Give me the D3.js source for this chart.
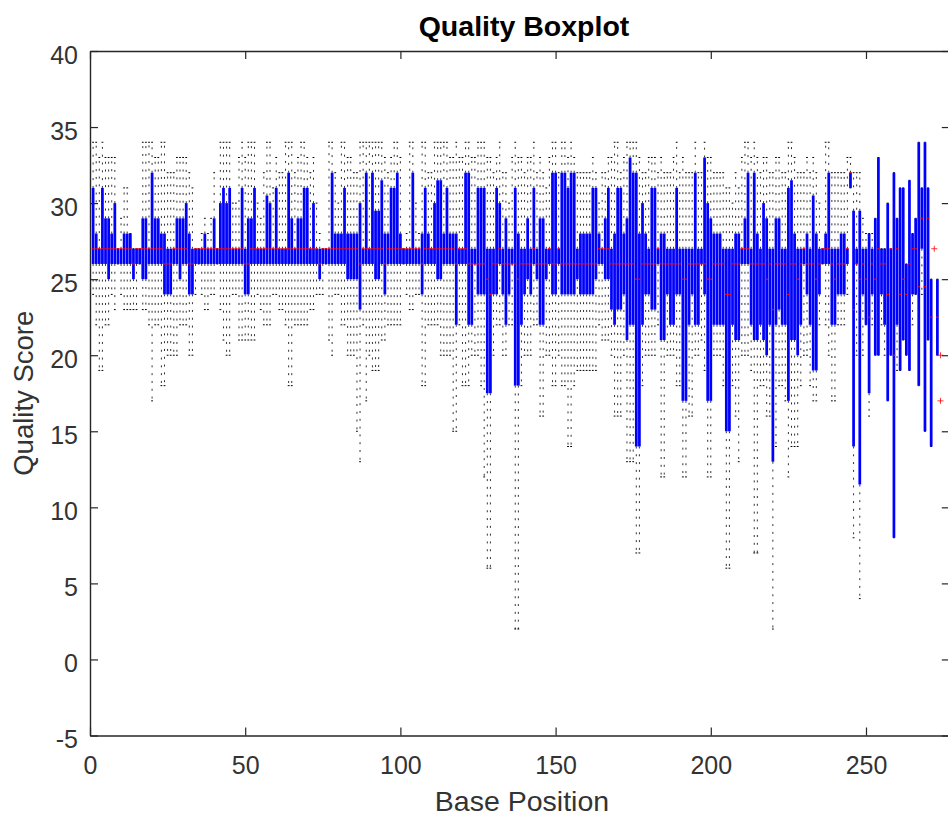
<!DOCTYPE html>
<html><head><meta charset="utf-8">
<script src="https://cdn.jsdelivr.net/npm/d3@7"></script>
<style>
body{margin:0;background:#fff}
svg{display:block}
text{font-family:"Liberation Sans",Arial,Helvetica,sans-serif}
</style>
</head><body>
<svg id="chart" width="948" height="820"></svg>
<script>
// ---- data, positions 1..274 ----
const whiskerLow = [
24,22,19,19,22,22,24,23,26,24, 23,23,23,23,23,26,23,23,22,17,
22,22,18,18,20,20,20,20,22,22, 22,20,20,24,26,24,23,23,24,24,
26,23,21,20,20,24,24,21,21,21, 21,21,21,24,23,22,22,22,24,24,
23,23,22,18,18,22,22,22,22,22, 23,23,24,24,24,26,21,20,24,24,
22,22,20,20,20,15,13,22,17,20, 19,19,19,21,21,22,22,22,22,22,
26,24,23,23,24,24,18,18,22,22, 22,22,20,20,20,20,15,15,22,18,
18,18,20,20,20,18,12,6,6,20, 22,22,20,20,22,22,2,2,18,20,
20,20,22,22,16,16,20,20,18,18, 20,18,18,14,14,18,19,19,19,19,
19,19,19,22,21,21,21,20,16,16, 16,20,13,13,13,7,7,18,20,20,
20,20,22,12,12,20,20,20,18,18, 12,12,16,16,20,20,21,19,12,12,
20,20,20,18,6,6,18,16,13,20, 20,20,19,7,7,18,18,16,16,2,
14,18,18,17,12,14,14,14,18,20, 20,18,17,17,22,26,22,20,17,17,
22,22,22,24,31,8,20,4,20,22, 16,22,20,20,22,20,17,20,8,19,
19,21,20,19,22,24,18,24,15,21, 14,null,20,null];
const lowerQuartile = [
26,26,26,26,26,25,26,26,26,26, 26,26,26,25,26,26,25,25,26,26,
26,26,26,24,24,24,26,26,25,26, 26,24,24,26,26,26,26,26,26,26,
26,26,26,26,26,26,26,26,26,24, 24,26,26,26,26,26,26,26,26,26,
26,26,26,26,26,26,26,26,26,26, 26,26,26,25,26,26,26,26,26,26,
26,26,25,25,25,25,23,26,26,26, 26,25,25,26,24,26,26,26,26,26,
26,26,26,26,26,26,24,26,26,26, 26,25,25,26,26,26,26,22,26,26,
26,22,22,26,24,24,24,17.5,17.5,24, 24,26,24,22,24,26,18,18,22,24,
25,24,26,25,22,22,25,26,24,24, 26,24,24,24,24,24,25,24,24,24,
24,24,25,26,26,25,25,23,22,23, 23,24,21,22,22,14,14,22,24,24,
23,23,26,21,21,24,22,22,24,24, 17,17,22,24,22,22,26,24,17,17,
22,22,22,22,15,15,22,21,21,26, 26,26,22,21,21,22,21,20,22,13,
22,23,22,22,17,21,21,20,22,26, 24,22,19,19,24,26,26,26,22,22,
24,24,24,26,31,14,26,11.5,24,22, 17.5,24,20,20,24,22,17,20,8,22,
19,21,20,19,24,24,18,27,15,21, 14,null,20,null];
const medianValue = [
27,27,27,27,27,27,27,27,27,27, 27,27,27,26,27,27,27,27,27,27,
27,27,27,26,26,26,27,27,27,27, 27,26,26,27,27,27,27,27,27,27,
27,27,27,27,27,27,27,27,27,26, 26,27,27,27,27,27,27,27,27,27,
27,27,27,27,27,27,27,27,27,27, 27,27,27,26,27,27,27,27,27,27,
27,27,27,27,27,27,26,27,27,27, 27,27,27,27,26,27,27,27,27,27,
27,27,27,27,27,27,26,27,27,27, 27,27,27,27,27,27,27,26,27,27,
27,26,26,26,26,26,26,25,24,26, 26,27,26,26,26,26,26,25,26,26,
26,26,27,26,26,26,26,27,26,26, 27,26,26,26,26,26,26,26,26,26,
26,26,26,27,27,27,27,26,26,26, 26,26,26,26,26,25,25,26,26,26,
26,26,27,26,26,26,26,26,26,26, 25,25,26,26,26,26,26,26,25,25,
26,26,26,26,24,24,26,26,26,27, 27,27,26,26,26,26,26,25,26,23,
26,26,26,26,24,26,26,25,26,27, 26,26,26,25,26,27,27,27,26,25,
26,26,26,27,32,23,26,25,26,25, 22.5,26,25,27,26,26,24,27,20,27,
24,25,24,26,27,27,24.5,29,24.5,29, 22.5,null,22.5,null];
const upperQuartile = [
31,28,27,31,29,29,28,30,27,27, 28,28,28,27,27,27,29,29,27,32,
29,29,28,28,27,27,27,29,29,29, 30,28,27,27,27,27,28,27,27,29,
27,30,31,30,31,27,27,27,31,27, 29,29,31,27,27,27,30.5,30,27,31,
27,27,27,32,29,27,29,29,31,31, 27,30,27,27,27,27,27,32,28,28,
28,31,28,28,28,28,30,27,32,27, 32,29.5,29.5,31.5,28,28,31,31,32,28,
27,27,27,32,27,27,28,31,28,27, 30,31.5,31.5,28,31,28,28,28,27,27,
32,32,27,27,31,31,31,27,27,27, 31,30,27,29,27,27,31,28,27,27,
29,27,31,27,29,29,27,27,32,32, 27,32,32,31,32,32,27,28,28,28,
28,31,31,28,27,29,31,27,28,31, 31,28,29,33,32,32,28,30,28,27,
31,31,27,28,28,27,27,27,31,27, 27,27,27,27,32,27,27,33,30,29,
28,28,28,27,27,27,27,28,28,27, 29,32,27,32,28,27,30,29,27,27,
29,29,27,27,31,31.5,28,27,27,27, 28,27,30.5,28,27,27,28,32,27,27,
27,28,28,27,32,29.5,27,29.5,27,27, 28,27,29,33,27,27,30,27,32,29,
31,31,26,31.5,28,29,34,31,34,31, 25,null,25,null];
const whiskerHigh = [
34,34,33,34,33,33,33,33,27,29, 31,31,28,27,27,27,34,34,34,34,
33,33,34,34,32,32,32,33,33,33, 33,32,31,27,27,28,29,28,29,32,
27,34,34,34,34,30,30,33,34,33, 34,34,34,30,29,32,34,34,31,33,
32,32,34,34,34,32,33,34,34,33, 32,33,30,28,27,27,34,34,32,30,
34,34,33,33,32,32,34,34,34,34, 34,34,34,34,33,32,33,34,34,33,
27,28,34,34,30,28,34,34,32,32, 34,34,34,34,34,33,33,34,33,33,
34,34,33,33,34,34,34,33,33,32, 33,34,32,32,30,33,34,33,33,32,
33,33,34,32,33,32,31,33,34,34, 32,34,34,33,34,33,32,32,32,32,
32,33,32,30,32,32,33,33,34,34, 32,33,34,34,34,34,33,32,32,33,
33,33,32,33,32,32,32,33,34,32, 33,32,32,32,34,32,32,34,33,33,
32,32,32,32,31,31,30,32,31,33, 34,34,33,34,33,32,33,33,32,32,
33,33,32,32,34,34,33,32,32,32, 33,32,33,32,30,27,34,34,32,32,
32,32,32,33,33,32,32,32,29,28, 28,28,29,33,27,27,30,27,32,29,
31,31,26,31.5,28,29,34,31,34,31, 25,null,25,null];
const outlierPosition = [272, 274, 274];
const outlierValue = [27, 20, 17];
const xTickValues = [0, 50, 100, 150, 200, 250];
const yTickValues = [-5, 0, 5, 10, 15, 20, 25, 30, 35, 40];

// ---- layout ----
const svg = d3.select("#chart");
const X0 = 90, X1 = 949.8, Y0 = 735.5, Y1 = 51;
const x = d3.scaleLinear().domain([0, 277]).range([X0, X1]);
const y = d3.scaleLinear().domain([-5, 40]).range([Y0, Y1]);
const axisColor = "#262626";

svg.append("defs").append("clipPath").attr("id", "plotclip")
  .append("rect").attr("x", X0).attr("y", Y1).attr("width", X1 - X0).attr("height", Y0 - Y1);

const boxes = whiskerLow.map((lo, i) => ({
  pos: i + 1, lo, q1: lowerQuartile[i], med: medianValue[i], q3: upperQuartile[i], hi: whiskerHigh[i]
})).filter(d => d.q1 != null);

const bw = x(0.88) - x(0);
const plot = svg.append("g").attr("clip-path", "url(#plotclip)");

// whiskers (dashed black)
const wg = plot.append("g").attr("stroke", "#1a1a1a").attr("stroke-width", 0.9)
  .attr("stroke-dasharray", "2,5.8").attr("fill", "none");
boxes.filter(d => d.hi > d.q3).forEach(d => {
  wg.append("path").attr("d", `M${x(d.pos)},${y(d.q3)}V${y(d.hi)}`);
});
boxes.filter(d => d.lo < d.q1).forEach(d => {
  wg.append("path").attr("d", `M${x(d.pos)},${y(d.q1)}V${y(d.lo)}`);
});
// whisker caps
const cg = plot.append("g").attr("stroke", "#000").attr("stroke-width", 1);
boxes.forEach(d => {
  [d.hi, d.lo].forEach(v => {
    cg.append("line").attr("x1", x(d.pos) - 0.9).attr("x2", x(d.pos) + 0.9)
      .attr("y1", y(v)).attr("y2", y(v));
  });
});
// boxes
plot.append("g").selectAll("rect").data(boxes).join("rect")
  .attr("x", d => x(d.pos) - bw / 2)
  .attr("y", d => y(d.q3))
  .attr("width", bw)
  .attr("height", d => Math.max(0.8, y(d.q1) - y(d.q3)))
  .attr("fill", "#0000ff");
// medians
plot.append("g").selectAll("line").data(boxes).join("line")
  .attr("x1", d => x(d.pos) - bw / 2).attr("x2", d => x(d.pos) + bw / 2)
  .attr("y1", d => y(d.med)).attr("y2", d => y(d.med))
  .attr("stroke", "#ff0000").attr("stroke-width", 1.1);
// outliers
plot.append("g").selectAll("path").data(outlierPosition.map((p, i) => ({p, v: outlierValue[i]}))).join("path")
  .attr("d", d => `M${x(d.p) - 3},${y(d.v)}H${x(d.p) + 3}M${x(d.p)},${y(d.v) - 3}V${y(d.v) + 3}`)
  .attr("stroke", "#ff0000").attr("stroke-width", 0.8).attr("fill", "none");

// ---- axes ----
function styleAxis(g) {
  g.selectAll("path.domain").attr("stroke", axisColor).attr("stroke-width", 1.4);
  g.selectAll(".tick line").attr("stroke", axisColor).attr("stroke-width", 1.2);
  g.selectAll(".tick text").attr("fill", "#333").attr("font-size", 25)
    .attr("font-family", '"Liberation Sans",Arial,Helvetica,sans-serif');
}
const tick = 8;
const plain = d => String(d);
const gb = svg.append("g").attr("transform", `translate(0,${Y0})`)
  .call(d3.axisBottom(x).tickValues(xTickValues).tickFormat(plain).tickSizeInner(-tick).tickSizeOuter(0).tickPadding(21))
  .call(styleAxis);
gb.selectAll(".tick text").attr("dy", "0.71em");
svg.append("g").attr("transform", `translate(0,${Y1})`)
  .call(d3.axisTop(x).tickValues(xTickValues).tickSizeInner(-tick).tickSizeOuter(0).tickFormat(""))
  .call(styleAxis);
const gl = svg.append("g").attr("transform", `translate(${X0},0)`)
  .call(d3.axisLeft(y).tickValues(yTickValues).tickFormat(plain).tickSizeInner(-tick).tickSizeOuter(0).tickPadding(12))
  .call(styleAxis);
gl.selectAll(".tick text").attr("dy", "0.48em");
svg.append("g").attr("transform", `translate(${X1},0)`)
  .call(d3.axisRight(y).tickValues(yTickValues).tickSizeInner(-tick).tickSizeOuter(0).tickFormat(""))
  .call(styleAxis);

// ---- titles ----
svg.append("text").attr("x", 524).attr("y", 36).attr("text-anchor", "middle")
  .attr("font-size", 28.5).attr("font-weight", "bold").attr("fill", "#000").text("Quality Boxplot");
svg.append("text").attr("x", 522).attr("y", 811).attr("text-anchor", "middle")
  .attr("font-size", 28.5).attr("fill", "#333").text("Base Position");
svg.append("text").attr("transform", `translate(33,${(Y0 + Y1) / 2}) rotate(-90)`).attr("text-anchor", "middle")
  .attr("font-size", 27.5).attr("fill", "#333").text("Quality Score");
</script>
</body></html>
